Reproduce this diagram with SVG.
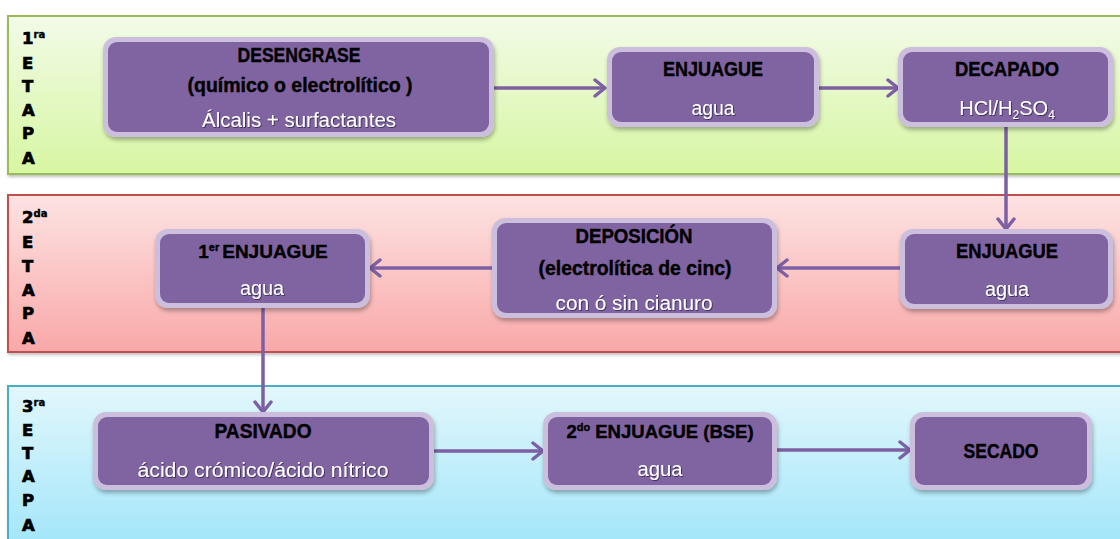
<svg xmlns="http://www.w3.org/2000/svg" width="1120" height="539" viewBox="0 0 1120 539">
<defs>
<linearGradient id="g1" x1="0" y1="0" x2="0" y2="1"><stop offset="0" stop-color="#f2fbe8"/><stop offset="1" stop-color="#d7f6a2"/></linearGradient>
<linearGradient id="g2" x1="0" y1="0" x2="0" y2="1"><stop offset="0" stop-color="#fde3e3"/><stop offset="1" stop-color="#f9a8a8"/></linearGradient>
<linearGradient id="g3" x1="0" y1="0" x2="0" y2="1"><stop offset="0" stop-color="#e2f7fc"/><stop offset="1" stop-color="#a2e6fa"/></linearGradient>
<filter id="bs" x="-5%" y="-10%" width="110%" height="125%"><feDropShadow dx="1" dy="2" stdDeviation="1.5" flood-color="#000" flood-opacity="0.25"/></filter>
<filter id="ns" x="-10%" y="-10%" width="120%" height="130%"><feDropShadow dx="1" dy="3" stdDeviation="2" flood-color="#000" flood-opacity="0.3"/></filter>
<filter id="ts" x="-5%" y="-20%" width="110%" height="150%"><feDropShadow dx="0.8" dy="0.8" stdDeviation="0.4" flood-color="#1a1030" flood-opacity="0.8"/></filter>
<marker id="arr" markerUnits="userSpaceOnUse" markerWidth="20" markerHeight="20" refX="13" refY="10" orient="auto">
<path d="M3,2 L13,10 L3,18" fill="none" stroke="#7d60a3" stroke-width="3.5" stroke-linecap="round" stroke-linejoin="round"/>
</marker>
<style>
.b1{fill:url(#g1);stroke:#9bbb59;stroke-width:2;filter:url(#bs)}
.b2{fill:url(#g2);stroke:#c0504d;stroke-width:2;filter:url(#bs)}
.b3{fill:url(#g3);stroke:#4bacc6;stroke-width:2;filter:url(#bs)}
.no{fill:#cbbfdd;filter:url(#ns)}
.ni{fill:#8064a2}
.t{font-family:"Liberation Sans",Arial,sans-serif;font-weight:bold;font-size:20px;fill:#000;stroke:#000;stroke-width:0.4;text-anchor:middle}
.w{font-family:"Liberation Sans",Arial,sans-serif;font-size:20px;fill:#fff;text-anchor:middle;filter:url(#ts)}
.st{font-family:"DejaVu Sans",Arial,sans-serif;font-weight:bold;font-size:16.5px;fill:#000;stroke:#000;stroke-width:0.7}
.sup{font-size:10px;stroke-width:0.4}
.conn{stroke:#7d60a3;stroke-width:3.5;fill:none;marker-end:url(#arr)}
</style>
</defs>

<g id="bands">
<rect class="b1" x="8" y="16" width="1125" height="158"/>
<rect class="b2" x="8" y="195" width="1125" height="157"/>
<rect class="b3" x="8" y="386" width="1125" height="160"/>
</g>

<g id="stage1" class="st">
<text x="22" y="44">1<tspan class="sup" dy="-6">ra</tspan></text>
<text x="22" y="69">E</text>
<text x="22" y="92">T</text>
<text x="22" y="116">A</text>
<text x="22" y="139">P</text>
<text x="22" y="164">A</text>
</g>
<g id="stage2" class="st">
<text x="22" y="223">2<tspan class="sup" dy="-6">da</tspan></text>
<text x="22" y="248">E</text>
<text x="22" y="272">T</text>
<text x="22" y="296">A</text>
<text x="22" y="319">P</text>
<text x="22" y="344">A</text>
</g>
<g id="stage3" class="st">
<text x="22" y="412">3<tspan class="sup" dy="-6">ra</tspan></text>
<text x="22" y="436">E</text>
<text x="22" y="459">T</text>
<text x="22" y="482">A</text>
<text x="22" y="506">P</text>
<text x="22" y="531">A</text>
</g>

<g id="connectors">
<path class="conn" d="M494,88 H605"/>
<path class="conn" d="M819,88 H898"/>
<path class="conn" d="M1006,127 V229"/>
<path class="conn" d="M900,268 H777"/>
<path class="conn" d="M492,268 H370"/>
<path class="conn" d="M263,308 V412"/>
<path class="conn" d="M434,451 H543"/>
<path class="conn" d="M777,450 H910"/>
</g>

<g id="desengrase">
<rect class="no" x="103" y="37" width="391" height="100" rx="13"/>
<rect class="ni" x="108" y="42" width="381" height="90" rx="9"/>
<text class="t" x="299" y="62" textLength="123" lengthAdjust="spacingAndGlyphs">DESENGRASE</text>
<text class="t" x="300" y="92" textLength="225" lengthAdjust="spacingAndGlyphs">(químico o electrolítico )</text>
<text class="w" x="299" y="127" textLength="194" lengthAdjust="spacingAndGlyphs">Álcalis + surfactantes</text>
</g>

<g id="enjuague1">
<rect class="no" x="607" y="47" width="212" height="80" rx="13"/>
<rect class="ni" x="612" y="52" width="202" height="70" rx="9"/>
<text class="t" x="713" y="76" textLength="100" lengthAdjust="spacingAndGlyphs">ENJUAGUE</text>
<text class="w" x="713" y="115" textLength="43" lengthAdjust="spacingAndGlyphs">agua</text>
</g>

<g id="decapado">
<rect class="no" x="898" y="47" width="215" height="80" rx="13"/>
<rect class="ni" x="903" y="52" width="205" height="70" rx="9"/>
<text class="t" x="1007" y="76" textLength="104" lengthAdjust="spacingAndGlyphs">DECAPADO</text>
<text class="w" x="1007" y="115">HCl/H<tspan font-size="12" dy="4">2</tspan><tspan dy="-4">SO</tspan><tspan font-size="12" dy="4">4</tspan></text>
</g>

<g id="enjuague2">
<rect class="no" x="900" y="229" width="213" height="80" rx="13"/>
<rect class="ni" x="905" y="234" width="203" height="70" rx="9"/>
<text class="t" x="1007" y="258" textLength="102" lengthAdjust="spacingAndGlyphs">ENJUAGUE</text>
<text class="w" x="1007" y="296" textLength="44" lengthAdjust="spacingAndGlyphs">agua</text>
</g>

<g id="deposicion">
<rect class="no" x="492" y="218" width="285" height="100" rx="13"/>
<rect class="ni" x="497" y="223" width="275" height="90" rx="9"/>
<text class="t" x="634" y="243" textLength="117" lengthAdjust="spacingAndGlyphs">DEPOSICIÓN</text>
<text class="t" x="635" y="275" textLength="193" lengthAdjust="spacingAndGlyphs">(electrolítica de cinc)</text>
<text class="w" x="634" y="310" textLength="157" lengthAdjust="spacingAndGlyphs">con ó sin cianuro</text>
</g>

<g id="enjuague-1er">
<rect class="no" x="155" y="229" width="215" height="79" rx="13"/>
<rect class="ni" x="160" y="234" width="205" height="69" rx="9"/>
<text class="t" x="263" y="258" style="font-size:19px">1<tspan font-size="11" dy="-7">er</tspan><tspan dx="3" dy="7">ENJUAGUE</tspan></text>
<text class="w" x="262" y="295" textLength="44" lengthAdjust="spacingAndGlyphs">agua</text>
</g>

<g id="pasivado">
<rect class="no" x="93" y="412" width="341" height="78" rx="13"/>
<rect class="ni" x="98" y="417" width="331" height="68" rx="9"/>
<text class="t" x="263" y="438" textLength="97" lengthAdjust="spacingAndGlyphs">PASIVADO</text>
<text class="w" x="263" y="477" textLength="251" lengthAdjust="spacingAndGlyphs">ácido crómico/ácido nítrico</text>
</g>

<g id="enjuague-2do">
<rect class="no" x="543" y="412" width="234" height="78" rx="13"/>
<rect class="ni" x="548" y="417" width="224" height="68" rx="9"/>
<text class="t" x="660" y="438" style="font-size:18.5px">2<tspan font-size="11" dy="-7">do</tspan><tspan dy="7"> ENJUAGUE (BSE)</tspan></text>
<text class="w" x="660" y="476" textLength="45" lengthAdjust="spacingAndGlyphs">agua</text>
</g>

<g id="secado">
<rect class="no" x="910" y="412" width="182" height="78" rx="13"/>
<rect class="ni" x="915" y="417" width="172" height="68" rx="9"/>
<text class="t" x="1001" y="458" textLength="75" lengthAdjust="spacingAndGlyphs">SECADO</text>
</g>
</svg>
